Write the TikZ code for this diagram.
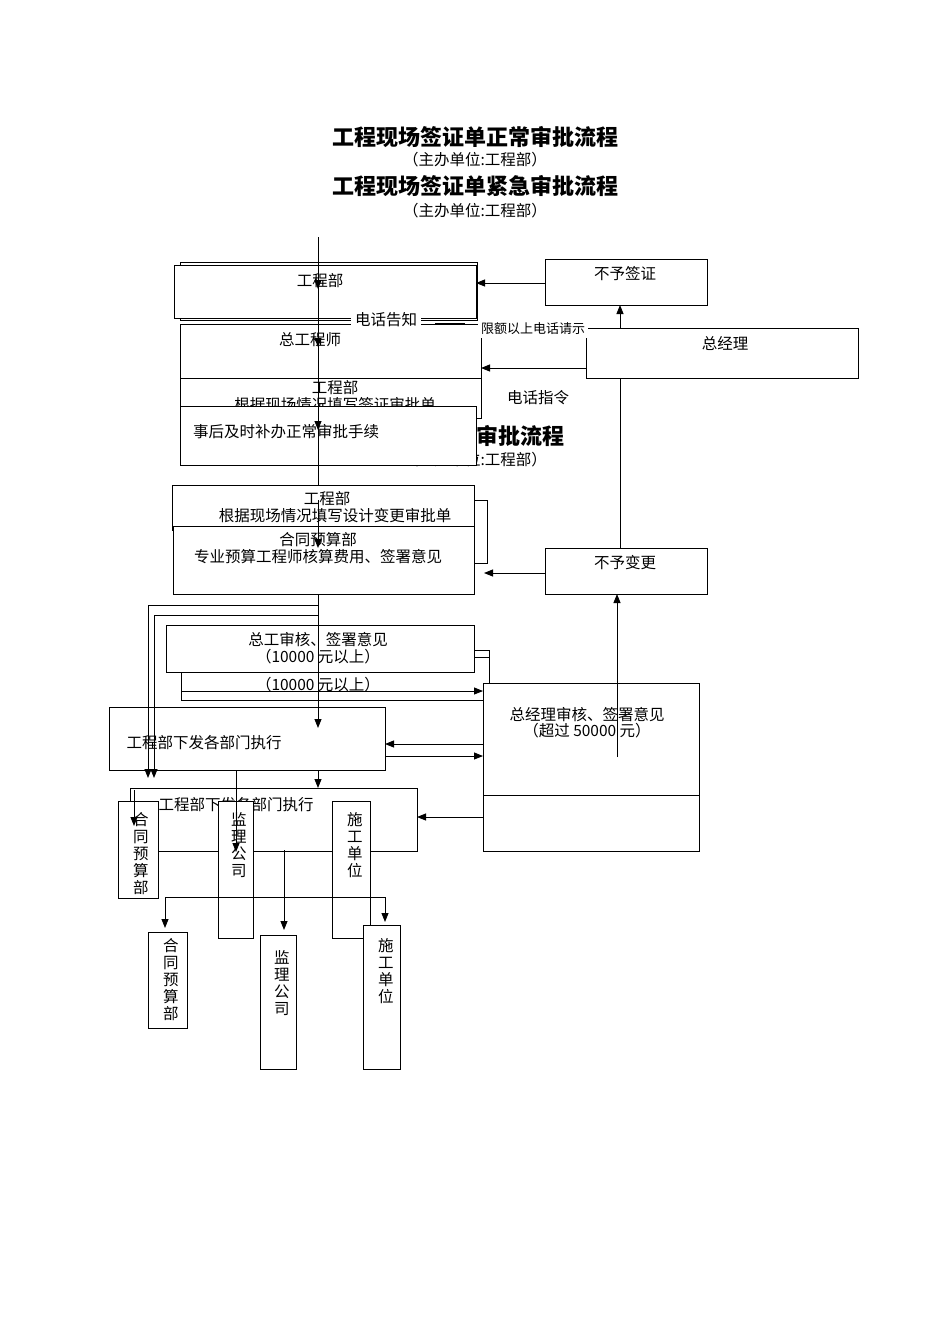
\documentclass[tikz,border=0pt]{standalone}
\usepackage{fontspec}
\setmainfont{Noto Sans CJK SC}
\usetikzlibrary{arrows.meta}
\begin{document}
\begin{tikzpicture}[x=1pt,y=-1pt,
  box/.style={draw,fill=white,line width=0.9pt,anchor=north west,inner sep=0pt},
  t/.style={font=\fontsize{15.5}{17}\selectfont,inner sep=0pt},
  ts/.style={font=\fontsize{13}{15}\selectfont,inner sep=0pt},
  tt/.style={font=\fontsize{22}{24}\selectfont\bfseries,inner sep=0pt},
  vt/.style={font=\fontsize{15.5}{17}\selectfont,inner sep=0pt,align=center,text width=1em,anchor=north},
  ln/.style={line width=0.9pt},
  ar/.style={line width=0.9pt,-{Triangle[length=9pt,width=7pt]}}]
\useasboundingbox (0,0) rectangle (950,1344);
% titles
\node[tt] (t1) at (475,137) {工程现场签证单正常审批流程};
\node[t] (s1) at (475,160) {（主办单位:工程部）};
\node[tt] (t2) at (475,186) {工程现场签证单紧急审批流程};
\node[t] (s2) at (475,211) {（主办单位:工程部）};
\node[tt] (t3) at (520,436) {审批流程};
\node[t] (s3) at (475,460) {（主办单位:工程部）};
% top cluster
\node[box,minimum width=297,minimum height=58] (bA) at (180,262) {};
\node[box,minimum width=302,minimum height=53] (gcb) at (174,265) {};
\node[t] (gcbT) at (320,281) {工程部};
\node[box,minimum width=162,minimum height=46] (bq) at (545,259) {};
\node[t] (bqT) at (625,274) {不予签证};
\node[box,minimum width=301,minimum height=54] (zgs) at (180,324) {};
\node[t] (zgsT) at (310,340) {总工程师};
\node[box,minimum width=301,minimum height=40] (gcb2) at (180,378) {};
\node[t] (gcb2T) at (335,388) {工程部};
\node[t] (gcb2U) at (335,405) {根据现场情况填写签证审批单};
\node[box,minimum width=296,minimum height=59] (sh) at (180,406) {};
\node[t,anchor=west] (shT) at (193,432) {事后及时补办正常审批手续};
\node[box,minimum width=272,minimum height=50] (zjl) at (586,328) {};
\node[t] (zjlT) at (725,344) {总经理};
\node[t,fill=white,inner sep=4pt] (dhgz) at (386,320) {电话告知};
\draw[ln] (435,318)--(465,318) (435,323)--(465,323);
\node[ts,fill=white,inner sep=3pt] (xe) at (533,329) {限额以上电话请示};
\node[t] (dhzl) at (538,398) {电话指令};
% top connectors
\coordinate (c0) at (318,237);
\draw[ln] (c0)--(318,485);
\draw[ar] (318,250)--(318,289);
\draw[ar] (318,310)--(318,347);
\draw[ar] (318,400)--(318,430);
\draw[ar] (545,283)--(476,283);
\draw[ar] (586,368)--(481,368);
\draw[ar] (620,328)--(620,305);
\draw[ln] (620,378)--(620,548);
% middle cluster
\node[box,minimum width=302,minimum height=45] (bg) at (172,485) {};
\node[t] (bgT) at (327,499) {工程部};
\node[t] (bgU) at (335,516) {根据现场情况填写设计变更审批单};
\draw[ln] (474,500)--(487,500)--(487,563)--(474,563);
\node[box,minimum width=301,minimum height=68] (ht) at (173,526) {};
\node[t] (htT) at (318,540) {合同预算部};
\node[t] (htU) at (318,557) {专业预算工程师核算费用、签署意见};
\draw[ar] (318,500)--(318,548);
\node[box,minimum width=162,minimum height=46] (bb) at (545,548) {};
\node[t] (bbT) at (625,563) {不予变更};
\draw[ar] (545,573)--(484,573);
% zonggong
\node[box,minimum width=308,minimum height=50] (zgB) at (181,650) {};
\node[t] (zgBT) at (318,685) {（10000 元以上）};
\node[box,minimum width=308,minimum height=47] (zg) at (166,625) {};
\node[t] (zgT) at (318,640) {总工审核、签署意见};
\node[t] (zgU) at (318,657) {（10000 元以上）};
\draw[ln] (474,657)--(489,657)--(489,683);
\draw[ar] (181,691)--(483,691);
\draw[ln] (181,700)--(483,700);
% zongjingli
\node[box,minimum width=216,minimum height=168] (zjB) at (483,683) {};
\draw[ln] (483,795)--(699,795);
\node[t] (zjT) at (587,715) {总经理审核、签署意见};
\node[t] (zjU) at (587,731) {（超过 50000 元）};
\draw[ar] (617,757)--(617,594);
% xiafa
\node[box,minimum width=287,minimum height=63] (xfB) at (130,788) {};
\node[t] (xfBT) at (236,805) {工程部下发各部门执行};
\node[box,minimum width=276,minimum height=63] (xf) at (109,707) {};
\node[t] (xfT) at (204,743) {工程部下发各部门执行};
\draw[ln] (318,594)--(318,700);
\draw[ar] (318,690)--(318,728);
\draw[ln] (318,605)--(148,605);
\draw[ar] (148,605)--(148,778);
\draw[ln] (318,615)--(154,615);
\draw[ar] (154,615)--(154,778);
\draw[ar] (483,744)--(385,744);
\draw[ar] (385,756)--(483,756);
\draw[ar] (483,817)--(417,817);
\draw[ar] (318,770)--(318,788);
% vertical boxes row 1
\node[box,minimum width=40,minimum height=97] (v1) at (118,801) {};
\node[vt] (v1T) at (138,812) {合\\同\\预\\算\\部};
\node[box,minimum width=35,minimum height=137] (v2) at (218,801) {};
\node[vt] (v2T) at (236,812) {监\\理\\公\\司};
\node[box,minimum width=38,minimum height=137] (v3) at (332,801) {};
\node[vt] (v3T) at (352,812) {施\\工\\单\\位};
\draw[ar] (134,790)--(134,826);
\draw[ar] (236,770)--(236,852);
\draw[ln] (165,897)--(385,897);
\draw[ar] (165,897)--(165,928);
\draw[ar] (284,850)--(284,930);
\draw[ar] (385,897)--(385,922);
% row 2
\node[box,minimum width=39,minimum height=96] (w1) at (148,932) {};
\node[vt] (w1T) at (168,938) {合\\同\\预\\算\\部};
\node[box,minimum width=36,minimum height=134] (w2) at (260,935) {};
\node[vt] (w2T) at (279,950) {监\\理\\公\\司};
\node[box,minimum width=37,minimum height=144] (w3) at (363,925) {};
\node[vt] (w3T) at (383,938) {施\\工\\单\\位};
\end{tikzpicture}
\end{document}
